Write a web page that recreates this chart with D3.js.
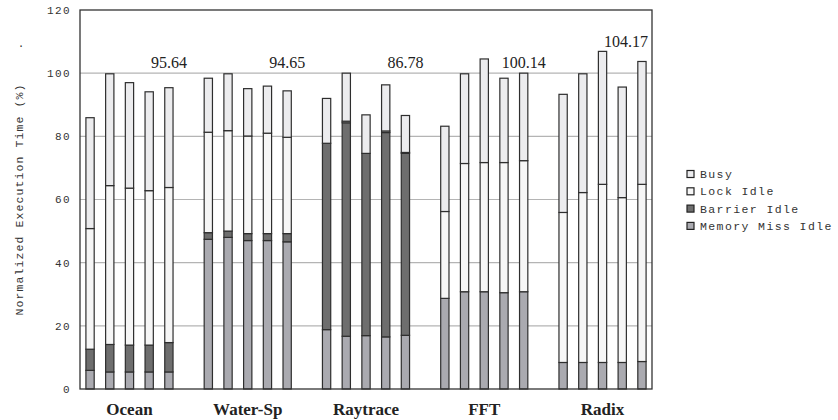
<!DOCTYPE html>
<html>
<head>
<meta charset="utf-8">
<script src="https://cdn.jsdelivr.net/npm/d3@7"></script>
<style>
  body { margin: 0; background: #fff; }
</style>
</head>
<body>
<div id="chart"></div>
<script>
// benchmarks, 5 runs each
const groups = ["Ocean", "Water-Sp", "Raytrace", "FFT", "Radix"];
const groupLabels = ["95.64", "94.65", "86.78", "100.14", "104.17"];
const yTicks = [0, 20, 40, 60, 80, 100, 120];

// segment values per bar, bottom to top
const memoryMiss = [
  5.9, 5.4, 5.4, 5.4, 5.4,
  47.4, 48.0, 47.0, 47.0, 46.6,
  18.8, 16.7, 16.9, 16.5, 17.0,
  28.7, 30.8, 30.8, 30.5, 30.8,
  8.4, 8.4, 8.4, 8.4, 8.7
];
const barrier = [
  6.7, 8.7, 8.5, 8.5, 9.3,
  2.1, 2.0, 2.2, 2.2, 2.6,
  59.0, 67.6, 57.7, 64.7, 57.6,
  0, 0, 0, 0, 0,
  0, 0, 0, 0, 0
];
const lockIdle = [
  38.2, 50.3, 49.7, 48.9, 49.1,
  31.8, 31.8, 30.9, 31.8, 30.5,
  0, 0.5, 0, 0.5, 0.3,
  27.5, 40.6, 40.9, 41.2, 41.5,
  47.5, 53.8, 56.4, 52.2, 56.1
];
const busy = [
  35.1, 35.4, 33.4, 31.3, 31.6,
  17.1, 18.0, 15.0, 14.9, 14.7,
  14.2, 15.2, 12.2, 14.6, 11.7,
  27.0, 28.4, 32.8, 26.7, 27.7,
  37.4, 37.6, 42.1, 35.0, 38.9
];

const seriesNames = ["Memory Miss Idle", "Barrier Idle", "Lock Idle", "Busy"];
const seriesColors = ["#aaaab0", "#6e6e6e", "#f6f6f6", "#ececee"];
const legendOrder = ["Busy", "Lock Idle", "Barrier Idle", "Memory Miss Idle"];

const width = 838, height = 420;
const plotL = 80, plotR = 652, plotT = 10, plotB = 389;
const perGroup = 5;

const svg = d3.select("#chart").append("svg")
  .attr("width", width)
  .attr("height", height);

// slots: 5 bars + 1 gap per group
const nSlots = groups.length * (perGroup + 1) - 1;
const x = d3.scaleBand()
  .domain(d3.range(nSlots))
  .range([plotL, plotR])
  .paddingInner(0.58)
  .paddingOuter(0.3);

const y = d3.scaleLinear().domain([0, 120]).range([plotB, plotT]);

// build bar table
let bars = [];
let totals = [];
for (let i = 0; i < memoryMiss.length; i++) {
  let g = Math.floor(i / perGroup);
  let slot = g * (perGroup + 1) + (i % perGroup);
  let vals = [memoryMiss[i], barrier[i], lockIdle[i], busy[i]];
  let acc = 0;
  vals.forEach((v, s) => {
    if (v > 0) bars.push({ slot: slot, s: s, y0: acc, y1: acc + v });
    acc += v;
  });
  totals.push({ slot: slot, total: acc });
}

// grid
svg.append("g").selectAll("line")
  .data(yTicks.filter(t => t > 0 && t < 120))
  .enter().append("line")
  .attr("x1", plotL).attr("x2", plotR)
  .attr("y1", d => y(d)).attr("y2", d => y(d))
  .attr("stroke", "#b4b4b4")
  .attr("stroke-width", 1.2);

// bars
svg.append("g").selectAll("rect")
  .data(bars)
  .enter().append("rect")
  .attr("x", d => x(d.slot))
  .attr("width", x.bandwidth())
  .attr("y", d => y(d.y1))
  .attr("height", d => y(d.y0) - y(d.y1))
  .attr("fill", d => seriesColors[d.s])
  .attr("stroke", "#2e2e2e")
  .attr("stroke-width", 1.2);

// frame
svg.append("rect")
  .attr("x", plotL).attr("y", plotT)
  .attr("width", plotR - plotL).attr("height", plotB - plotT)
  .attr("fill", "none")
  .attr("stroke", "#333")
  .attr("stroke-width", 1.3);

// y tick labels
svg.append("g").selectAll("text")
  .data(yTicks)
  .enter().append("text")
  .attr("x", plotL - 9)
  .attr("y", d => y(d))
  .attr("dy", "0.35em")
  .attr("text-anchor", "end")
  .style("font-family", "'Liberation Mono', 'DejaVu Sans Mono', monospace")
  .style("font-size", "11px")
  .style("letter-spacing", "1.4px")
  .attr("fill", "#333")
  .text(d => d);

// y title
svg.append("text")
  .attr("transform", `translate(23,${(plotT + plotB) / 2}) rotate(-90)`)
  .attr("text-anchor", "middle")
  .style("font-family", "'Liberation Mono', 'DejaVu Sans Mono', monospace")
  .style("font-size", "11.5px")
  .style("letter-spacing", "1.1px")
  .attr("fill", "#333")
  .text("Normalized Execution Time (%)");

svg.append("text")
  .attr("x", 21).attr("y", 47)
  .attr("text-anchor", "middle")
  .style("font-family", "'Liberation Mono', monospace")
  .style("font-size", "11px")
  .attr("fill", "#333")
  .text(".");

// group labels under axis
svg.append("g").selectAll("text")
  .data(groups)
  .enter().append("text")
  .attr("x", (d, g) => {
    let a = x(g * (perGroup + 1));
    let b = x(g * (perGroup + 1) + perGroup - 1) + x.bandwidth();
    return (a + b) / 2;
  })
  .attr("y", 415)
  .attr("text-anchor", "middle")
  .style("font-family", "'Liberation Serif', 'Times New Roman', serif")
  .style("font-size", "17px")
  .style("font-weight", "bold")
  .attr("fill", "#222")
  .text(d => d);

// average labels above groups, lifted above any bar they sit over
svg.append("g").selectAll("text")
  .data(groupLabels)
  .enter().append("text")
  .attr("text-anchor", "middle")
  .style("font-family", "'Liberation Serif', 'Times New Roman', serif")
  .style("font-size", "16px")
  .attr("fill", "#222")
  .text(d => d)
  .each(function (d, g) {
    let w = this.getComputedTextLength();
    let cx = x(g * (perGroup + 1) + perGroup - 1) + x.bandwidth() / 2;
    cx = Math.min(cx, plotR - 4 - w / 2);
    let baseY = 68;
    totals.forEach(t => {
      let bx0 = x(t.slot), bx1 = bx0 + x.bandwidth();
      if (bx1 > cx - w / 2 && bx0 < cx + w / 2) {
        baseY = Math.min(baseY, y(t.total) - 4);
      }
    });
    d3.select(this).attr("x", cx).attr("y", baseY);
  });

// legend
let legend = svg.append("g").selectAll("g")
  .data(legendOrder)
  .enter().append("g")
  .attr("transform", (d, i) => `translate(687,${174 + i * 17.3})`);

legend.append("rect")
  .attr("x", 0).attr("y", -3.5)
  .attr("width", 7).attr("height", 7)
  .attr("fill", d => seriesColors[seriesNames.indexOf(d)])
  .attr("stroke", "#222")
  .attr("stroke-width", 1.2);

legend.append("text")
  .attr("x", 13)
  .attr("y", 0)
  .attr("dy", "0.35em")
  .style("font-family", "'Liberation Mono', 'DejaVu Sans Mono', monospace")
  .style("font-size", "11.5px")
  .style("letter-spacing", "1.4px")
  .attr("fill", "#333")
  .text(d => d);
</script>
</body>
</html>
